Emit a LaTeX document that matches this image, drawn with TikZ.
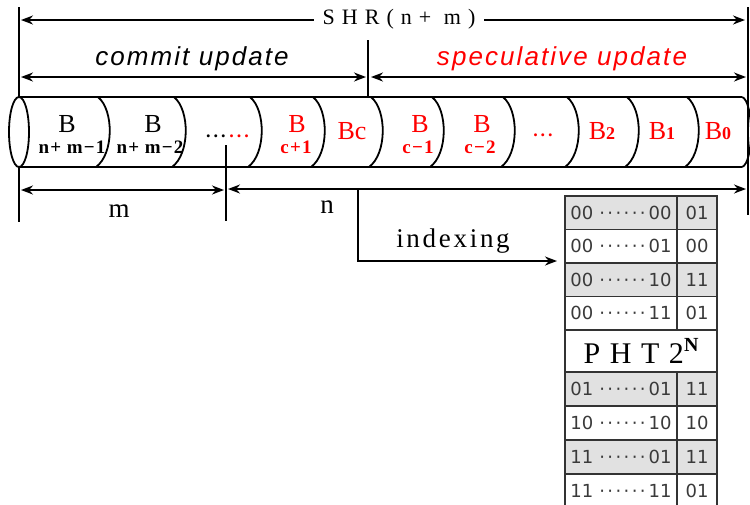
\documentclass[tikz,border=0pt]{standalone}
\usepackage{fontspec}
\setmainfont{Liberation Serif}
\newfontfamily\spacedserif[LetterSpace=32]{Liberation Serif}
\newfontfamily\lblserif[LetterSpace=10]{Liberation Serif}
\newfontfamily\subserif[LetterSpace=6]{Liberation Serif}
\newfontfamily\italsans[LetterSpace=8]{Liberation Sans}
\newfontfamily\tabfont{DejaVu Sans}
\newcommand\tdots{·\kern2.4pt·\kern2.4pt·\kern2.4pt·\kern2.4pt·\kern2.4pt·}
\usetikzlibrary{arrows.meta}
\definecolor{cellgray}{HTML}{E1E1E1}
\definecolor{tabtext}{HTML}{3A3A3A}
\definecolor{hred}{HTML}{FF0000}
\begin{document}
\begin{tikzpicture}[x=1pt,y=-1pt,line width=1.8pt,
  tipR/.style={-{Stealth[length=12pt,width=9pt]}},
  tipLR/.style={{Stealth[length=12pt,width=9pt]}-{Stealth[length=12pt,width=9pt]}},
  bigB/.style={inner sep=0pt,font=\fontsize{26}{26}\selectfont},
  subl/.style={inner sep=0pt,font=\subserif\bfseries\fontsize{19}{19}\selectfont},
  redtxt/.style={text=hred},
  lbl/.style={inner sep=0pt,font=\lblserif\fontsize{27}{27}\selectfont},
  cellL/.style={draw=black!80,line width=1.2pt,minimum width=112pt,minimum height=33.5pt,inner sep=0pt,
     text=tabtext,font=\tabfont\fontsize{18}{18}\selectfont},
  cellR/.style={draw=black!80,line width=1.2pt,minimum width=40pt,minimum height=33.5pt,inner sep=0pt,
     text=tabtext,font=\tabfont\fontsize{18}{18}\selectfont},
  cellLb/.style={cellL,minimum height=34pt},
  cellRb/.style={cellR,minimum height=34pt},
  shade/.style={fill=cellgray}
]
\useasboundingbox (0,0) rectangle (750,504);
\fill[white] (0,0) rectangle (750,504);

% vertical guide lines
\coordinate (vl1) at (19,7);   \coordinate (vl2) at (19,222);
\coordinate (vr1) at (748,7);  \coordinate (vr2) at (748,215);
\coordinate (vm1) at (368,40); \coordinate (vm2) at (368,97);
\coordinate (vn1) at (226,145);\coordinate (vn2) at (226,221);
\draw (vl1) -- (vl2);
\draw (vr1) -- (vr2);
\draw (vm1) -- (vm2);
\draw (vn1) -- (vn2);

% SHR(n+m)
\node[inner sep=2pt,font=\spacedserif\fontsize{22}{22}\selectfont] (shr) at (399,19) {SHR(n+ m)};
\coordinate (shrL) at (21,20); \coordinate (shrR) at (745,20);
\draw[tipR] (shr.west |- shrL) ++(-6,0) -- (shrL);
\draw[tipR] (shr.east |- shrR) ++(6,0) -- (shrR);

% commit / speculative
\node[inner sep=0pt,font=\italsans\itshape\fontsize{26}{26}\selectfont] (commit) at (192,59) {commit update};
\node[inner sep=0pt,redtxt,font=\italsans\itshape\fontsize{26}{26}\selectfont] (spec) at (562,59) {speculative update};
\coordinate (c1) at (21,77); \coordinate (c2) at (366,77);
\coordinate (s1) at (371,77); \coordinate (s2) at (746,77);
\draw[tipLR] (c1) -- (c2);
\draw[tipLR] (s1) -- (s2);

% cylinder
\draw (19,97) -- (742,97);
\draw (19,167) -- (742,167);
\draw[fill=white] (19,132) ellipse [x radius=10, y radius=35];
\draw (742,97) .. controls (754,101) and (754,163) .. (742,167);
\foreach \x in {98,174,250,313,371,432,503,567,627,687}{
  \draw (\x,97) .. controls (\x+16,110) and (\x+16,154) .. (\x-2,167);
}

% segment labels
\node[bigB] (b1) at (67,124) {B};
\node[subl] (b1s) at (72,147) {n+ m−1};
\node[bigB] (b2) at (153,124) {B};
\node[subl] (b2s) at (150,147) {n+ m−2};
\node[inner sep=0pt,anchor=base east,font=\bfseries\fontsize{18}{18}\selectfont] (dk) at (226.5,137) {.\,.\,.};
\node[inner sep=0pt,anchor=base west,redtxt,font=\bfseries\fontsize{18}{18}\selectfont] (dr) at (228.5,137) {.\,.\,.};
\node[bigB,redtxt] (b3) at (297,124) {B};
\node[subl,redtxt] (b3s) at (296,147) {c+1};
\node[bigB,redtxt] (bc) at (352,131) {Bc};
\node[bigB,redtxt] (b4) at (420,124) {B};
\node[subl,redtxt] (b4s) at (418,147) {c−1};
\node[bigB,redtxt] (b5) at (482,124) {B};
\node[subl,redtxt] (b5s) at (480,147) {c−2};
\node[inner sep=0pt,anchor=base,redtxt,font=\bfseries\fontsize{18}{18}\selectfont] (dr2) at (543,136) {.\,.\,.};
\node[bigB,redtxt] (bb2) at (602,131) {B{\bfseries\fontsize{18}{18}\selectfont 2}};
\node[bigB,redtxt] (bb1) at (662,131) {B{\bfseries\fontsize{18}{18}\selectfont 1}};
\node[bigB,redtxt] (bb0) at (718,131) {B{\bfseries\fontsize{18}{18}\selectfont 0}};

% m and n
\coordinate (m1) at (21,190); \coordinate (m2) at (224,190);
\draw[tipLR] (m1) -- (m2);
\node[lbl] (mlab) at (119,211) {m};
\coordinate (n1) at (228,189); \coordinate (n2) at (746,189);
\draw[tipLR] (n1) -- (n2);
\node[lbl] (nlab) at (327,207) {n};

% indexing
\coordinate (i1) at (358,189); \coordinate (i2) at (358,261); \coordinate (i3) at (557,261);
\draw[tipR] (i1) -- (i2) -- (i3);
\node[lbl] (idx) at (453,241) {indexing};

% PHT table
\node[cellL,shade] (r1l) at (621,212.75) {00\hspace{6pt}\tdots\hspace{3pt}00};
\node[cellR,shade] (r1r) at (697,212.75) {01};
\node[cellL] (r2l) at (621,246.25) {00\hspace{6pt}\tdots\hspace{3pt}01};
\node[cellR] (r2r) at (697,246.25) {00};
\node[cellL,shade] (r3l) at (621,279.75) {00\hspace{6pt}\tdots\hspace{3pt}10};
\node[cellR,shade] (r3r) at (697,279.75) {11};
\node[cellL] (r4l) at (621,313.25) {00\hspace{6pt}\tdots\hspace{3pt}11};
\node[cellR] (r4r) at (697,313.25) {01};
\node[draw=black!80,line width=1.2pt,minimum width=152pt,minimum height=42pt,inner sep=0pt] (pht) at (641,351)
  {{\spacedserif\fontsize{30}{30}\selectfont PHT2}\raisebox{12pt}{\bfseries\fontsize{20}{20}\selectfont N}};
\node[cellLb,shade] (r5l) at (621,389) {01\hspace{6pt}\tdots\hspace{3pt}01};
\node[cellRb,shade] (r5r) at (697,389) {11};
\node[cellLb] (r6l) at (621,423) {10\hspace{6pt}\tdots\hspace{3pt}10};
\node[cellRb] (r6r) at (697,423) {10};
\node[cellLb,shade] (r7l) at (621,457) {11\hspace{6pt}\tdots\hspace{3pt}01};
\node[cellRb,shade] (r7r) at (697,457) {11};
\node[cellLb] (r8l) at (621,491) {11\hspace{6pt}\tdots\hspace{3pt}11};
\node[cellRb] (r8r) at (697,491) {01};
\end{tikzpicture}
\end{document}
